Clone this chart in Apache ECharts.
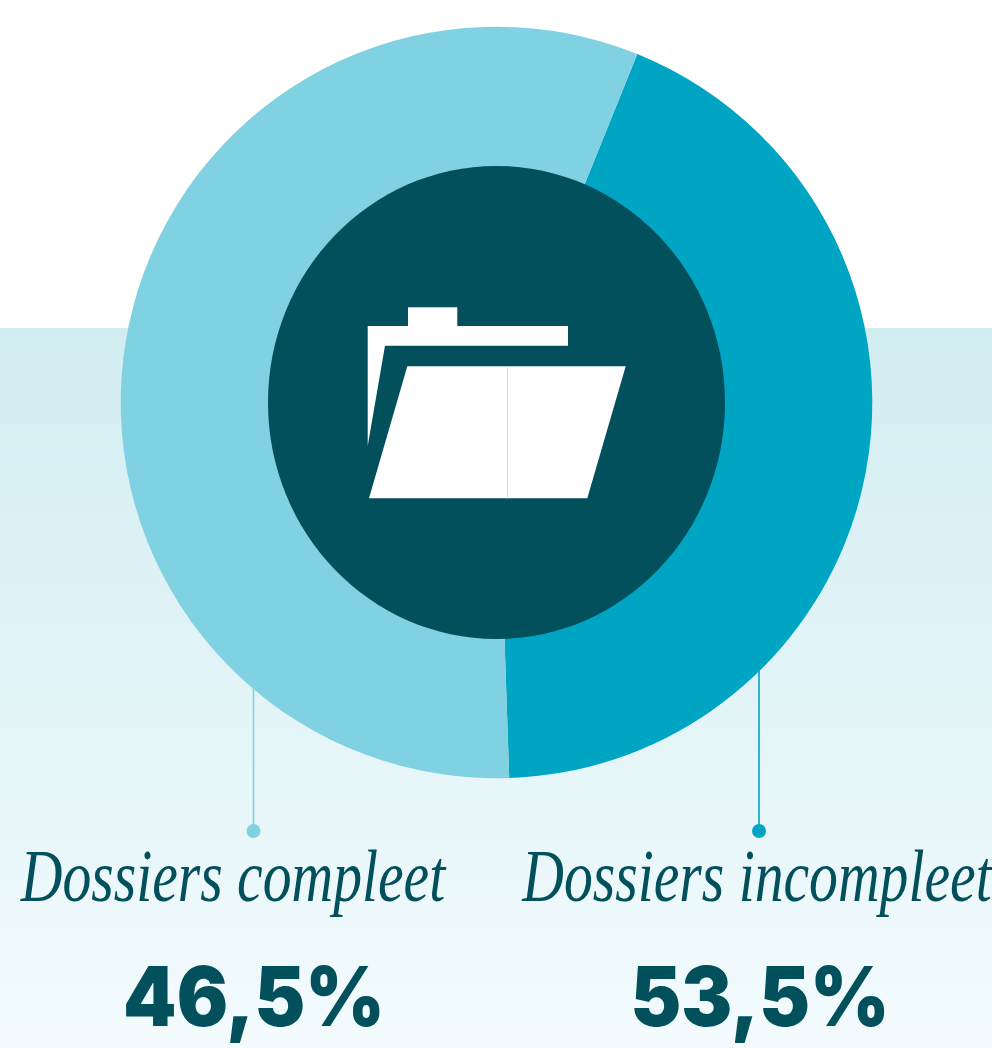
<!DOCTYPE html>
<html><head><meta charset="utf-8">
<style>html,body{margin:0;padding:0;background:#fff}#c{width:992px;height:1048px}</style>
<script src="https://cdn.jsdelivr.net/npm/echarts@6/dist/echarts.min.js"></script>
</head><body><div id="c"></div>
<script>
const categories = ['Dossiers compleet', 'Dossiers incompleet'];
const printedLabels = ['46,5%', '53,5%'];
const arcShares = [56.65, 43.35]; // shares as drawn in the picture (arc sweep)
const colors = ['#80d2e2', '#00a5c4'];
const navy = '#01505c';

const labelCx = [233, 757];
const valueCx = [254, 760];
const leaderX = [253.5, 759];
const leaderTop = [680, 665];

const chart = echarts.init(document.getElementById('c'), null, {renderer: 'canvas', width: 992, height: 1048});

const elements = [
  {type: 'rect', z: 0, silent: true, shape: {x: 0, y: 328, width: 992, height: 720},
   style: {fill: new echarts.graphic.LinearGradient(0, 0, 0, 1, [{offset: 0, color: '#d2edf2'}, {offset: 1, color: '#f3fbfd'}])}},
  {type: 'ellipse', z: 10, silent: true, shape: {cx: 496.5, cy: 402.5, rx: 228.5, ry: 236.5}, style: {fill: navy}},
  {type: 'polygon', z: 11, silent: true, shape: {points: [[367.7,326],[408,326],[408,307.3],[457.3,307.3],[457.3,326],[568,326],[568,345.7],[385,345.7],[367.7,446]]}, style: {fill: '#fff'}},
  {type: 'polygon', z: 11, silent: true, shape: {points: [[407.3,366.3],[625.7,366.3],[587.3,498.3],[369,498.3]]}, style: {fill: '#fff'}},
  {type: 'line', z: 12, silent: true, shape: {x1: 507.5, y1: 366.3, x2: 507.5, y2: 498.3}, style: {stroke: '#d3dcde', lineWidth: 1}}
];
categories.forEach((name, i) => {
  elements.push({type: 'line', z: 1, silent: true, shape: {x1: leaderX[i], y1: leaderTop[i], x2: leaderX[i], y2: 828}, style: {stroke: colors[i], lineWidth: 1.6}});
  elements.push({type: 'circle', z: 1, silent: true, shape: {cx: leaderX[i], cy: 831, r: 7}, style: {fill: colors[i]}});
  elements.push({type: 'text', z: 12, silent: true, x: labelCx[i], y: 918, scaleX: 0.79, originX: 0, originY: 0,
    style: {text: name, font: 'italic 400 73px "Liberation Serif", serif', fill: navy, textAlign: 'center', verticalAlign: 'bottom'}});
  elements.push({type: 'text', z: 12, silent: true, x: valueCx[i], y: 1042, scaleX: 0.93, originX: 0, originY: 0,
    style: {text: printedLabels[i], font: '900 82px Inter, "Open Sans", sans-serif', fill: navy, textAlign: 'center', verticalAlign: 'bottom'}});
});

chart.setOption({
  animation: false,
  backgroundColor: 'transparent',
  series: [{
    type: 'pie', z: 5, silent: true,
    center: [496.5, 402.5], radius: [0, 375.8],
    startAngle: 68, clockwise: true,
    label: {show: false}, labelLine: {show: false},
    data: [
      {name: categories[1], value: arcShares[1], itemStyle: {color: colors[1]}},
      {name: categories[0], value: arcShares[0], itemStyle: {color: colors[0]}}
    ]
  }],
  graphic: {elements}
});
</script></body></html>
